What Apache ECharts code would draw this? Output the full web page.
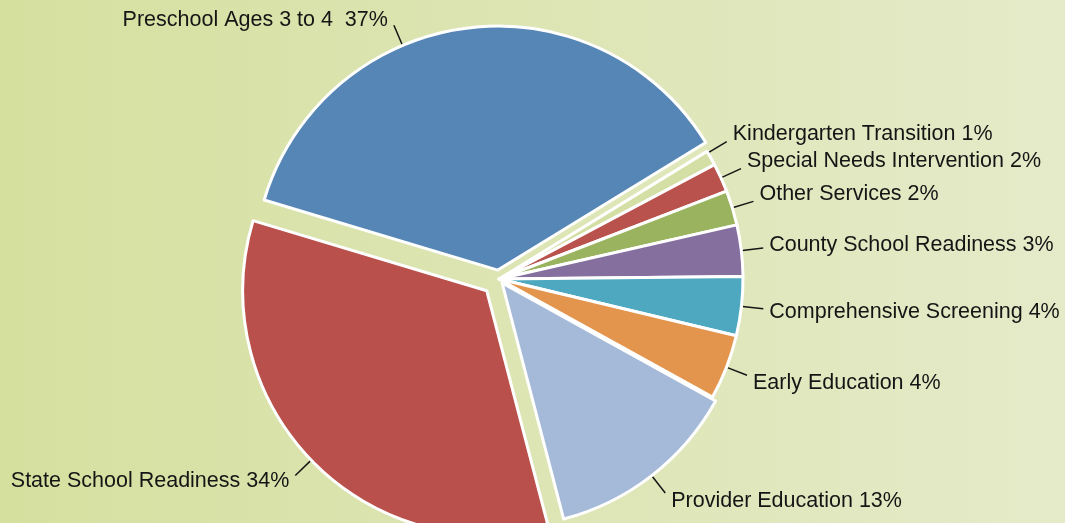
<!DOCTYPE html>
<html>
<head>
<meta charset="utf-8">
<script src="https://cdn.jsdelivr.net/npm/echarts@6/dist/echarts.min.js"></script>
<style>
  html, body { margin: 0; padding: 0; }
  #chart { width: 1065px; height: 523px; }
</style>
</head>
<body>
<div id="chart"></div>
<script>
// slice data, clockwise from the top-left edge of the big blue slice
// (shares; the labels show them rounded)
var categories = ['Preschool Ages 3 to 4', 'Kindergarten Transition', 'Special Needs Intervention',
  'Other Services', 'County School Readiness', 'Comprehensive Screening', 'Early Education',
  'Provider Education', 'State School Readiness']
var values = [36.6, 1.0, 1.9, 2.3, 3.4, 3.9, 4.3, 12.9, 33.7]
var labelTexts = ['Preschool Ages 3 to 4  37%', 'Kindergarten Transition 1%', 'Special Needs Intervention 2%',
  'Other Services 2%', 'County School Readiness 3%', 'Comprehensive Screening 4%', 'Early Education 4%',
  'Provider Education 13%', 'State School Readiness 34%']

// styles
var colors = ['#5586b6', '#d4dfa6', '#b9514c', '#9ab35e', '#856f9f', '#4ea8c0', '#e3954d', '#a5b9d9', '#b9504b']
var explodeOffsets = [9, 0, 0, 0, 0, 0, 0, 5, 17]
var CX = 499, CY = 279, R = 244, START = 163.3
var LINE_LEN = 22, LABEL_GAP = 27
var PRESCHOOL_LABEL_ANGLE = 113

var total = values.reduce(function (a, b) { return a + b }, 0)

// mid angle of a slice in degrees (math convention, counter-clockwise from +x)
function midAngle (i) {
  var before = 0
  for (var j = 0; j < i; j++) before += values[j]
  return START - (before + values[i] / 2) / total * 360
}

// centre of a slice after it is pulled out of the pie
function sliceCenter (i) {
  var m = midAngle(i) * Math.PI / 180
  return [CX + explodeOffsets[i] * Math.cos(m), CY - explodeOffsets[i] * Math.sin(m)]
}

// work out every label + guide line first, then spread crowded labels apart
function buildLabels () {
  var out = []
  for (var i = 0; i < values.length; i++) {
    var deg = i === 0 ? PRESCHOOL_LABEL_ANGLE : midAngle(i)
    var a = deg * Math.PI / 180
    var sin = Math.sin(a)
    var right = Math.cos(a) >= 0
    var dy = i === 0 ? -5 : -(right ? 8 : 6) * Math.max(-1, Math.min(1, sin / 0.3))
    var c = sliceCenter(i)
    out.push({ i: i, c: c, a: a, dy: dy, right: right,
      ty: c[1] - (R + LINE_LEN) * sin + dy })
  }
  // right-hand labels: keep a minimum vertical gap, pushing upwards
  var rightSide = out.filter(function (l) { return l.right }).sort(function (p, q) { return p.ty - q.ty })
  for (var k = rightSide.length - 2; k >= 0; k--) {
    var lo = rightSide[k + 1]
    var cur = rightSide[k]
    if (cur.ty > lo.ty - LABEL_GAP) {
      cur.ty = lo.ty - LABEL_GAP
      // swing the guide line so it still meets the moved label
      var s = (cur.c[1] - (cur.ty - cur.dy)) / (R + LINE_LEN)
      cur.a = Math.asin(Math.max(-1, Math.min(1, s)))
    }
  }
  out.forEach(function (l) {
    var cos = Math.cos(l.a), sin = Math.sin(l.a)
    l.p1 = [l.c[0] + (R + 1) * cos, l.c[1] - (R + 1) * sin]
    l.p2 = [l.c[0] + (R + LINE_LEN) * cos, l.c[1] - (R + LINE_LEN) * sin]
  })
  return out
}
var labelSpots = buildLabels()

function layoutLabel (params) {
  var l = labelSpots[params.dataIndex]
  return {
    x: l.p2[0] + (l.right ? 6 : -6),
    y: l.ty,
    align: l.right ? 'left' : 'right',
    verticalAlign: 'middle',
    labelLinePoints: [l.p1, l.p2, l.p2]
  }
}

var myChart = echarts.init(document.getElementById('chart'))

// one pie per slice so every slice can have its own pull-out distance
var series = []
for (var s = 0; s < values.length; s++) {
  var data = []
  for (var i = 0; i < values.length; i++) {
    var own = i === s
    data.push({
      name: categories[i],
      value: values[i],
      itemStyle: own
        ? { color: colors[i], borderColor: '#ffffff', borderWidth: 3 }
        : { color: 'rgba(0,0,0,0)', borderWidth: 0 },
      label: { show: own },
      labelLine: { show: own }
    })
  }
  series.push({
    type: 'pie',
    center: sliceCenter(s),
    radius: [0, R],
    startAngle: START,
    clockwise: true,
    silent: true,
    avoidLabelOverlap: false,
    label: {
      position: 'outside',
      color: '#151515',
      fontFamily: 'Liberation Sans, Arial, sans-serif',
      fontSize: 21.5,
      formatter: function (p) { return labelTexts[p.dataIndex] }
    },
    labelLine: {
      length: 20,
      length2: 1,
      lineStyle: { color: '#151515', width: 1.5 }
    },
    labelLayout: layoutLabel,
    emphasis: { disabled: true },
    data: data
  })
}

myChart.setOption({
  backgroundColor: {
    type: 'linear', x: 0, y: 0, x2: 1, y2: 0,
    colorStops: [
      { offset: 0, color: '#d5e09f' },
      { offset: 1, color: '#e5eac9' }
    ]
  },
  animation: false,
  series: series
})
</script>
</body>
</html>
